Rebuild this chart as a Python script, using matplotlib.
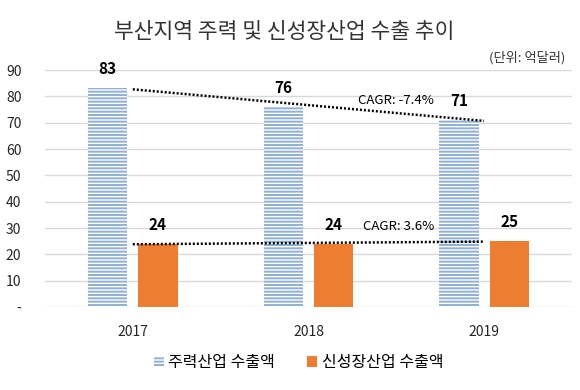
import numpy as np
import matplotlib
matplotlib.use('Agg')
import matplotlib.pyplot as plt

plt.rcParams['font.family'] = ['Noto Sans CJK KR', 'DejaVu Sans']
plt.rcParams['hatch.linewidth'] = 1.4

years = ['2017', '2018', '2019']
main_export = [83, 76, 71]
new_export = [24, 24, 25]
main_cagr = 'CAGR: -7.4%'
new_cagr = 'CAGR: 3.6%'
title = '부산지역 주력 및 신성장산업 수출 추이'
unit = '(단위: 억달러)'
labels = ['주력산업 수출액', '신성장산업 수출액']

blue = '#8fb0d2'
orange = '#ed7d31'

fig = plt.figure(figsize=(5.8, 3.9), dpi=100)
ax = fig.add_axes([0.0776, 0.2128, 0.9084, 0.6077])

x = np.arange(len(years))
w = 0.223
off = 0.143

b1 = ax.bar(x - off, main_export, w, color='white', edgecolor=blue,
            hatch='-----', linewidth=0, label=labels[0], zorder=2)
b2 = ax.bar(x + off, new_export, w, color=orange, linewidth=0,
            label=labels[1], zorder=2)

for xi, v in zip(x - off, main_export):
    ax.annotate(str(v), (xi, v), xytext=(0, 8), textcoords='offset points',
                ha='center', va='bottom', fontsize=11, fontweight='bold')
for xi, v in zip(x + off, new_export):
    ax.annotate(str(v), (xi, v), xytext=(0, 8), textcoords='offset points',
                ha='center', va='bottom', fontsize=11, fontweight='bold')

# linear trend lines
for vals in (main_export, new_export):
    k, b = np.polyfit(x, vals, 1)
    ax.plot([x[0], x[-1]], [k * x[0] + b, k * x[-1] + b], color='black',
            linestyle=(0, (0.8, 0.8)), linewidth=1.8, zorder=3)

ax.text(1.28, 78.5, main_cagr, fontsize=9.5, ha='left', va='center')
ax.text(1.31, 30.5, new_cagr, fontsize=9.5, ha='left', va='center')

ax.set_xlim(-0.5, 2.5)
ax.set_ylim(0, 90)
ax.set_yticks(range(0, 91, 10))
ax.set_yticklabels(['-'] + [str(v) for v in range(10, 91, 10)])
ax.set_xticks(x)
ax.set_xticklabels(years)
ax.tick_params(axis='both', length=0, labelsize=10, colors='#262626')
ax.tick_params(axis='x', pad=13)
ax.tick_params(axis='y', pad=17)
ax.grid(axis='y', color='#d9d9d9', linewidth=1, zorder=0)
ax.set_axisbelow(True)
for s in ax.spines.values():
    s.set_visible(False)

fig.text(0.49, 0.918, title, ha='center', va='center', fontsize=15.5,
         color='#333333')
fig.text(0.975, 0.853, unit, ha='right', va='center', fontsize=9.5,
         color='#333333')

fig.legend(handles=[b1, b2], labels=labels, loc='center',
           bbox_to_anchor=(0.515, 0.07), ncol=2, frameon=False, fontsize=11.5,
           handlelength=0.6, handleheight=0.6, handletextpad=0.3,
           columnspacing=2.0)

fig.savefig('out.png', dpi=100, facecolor='white')
